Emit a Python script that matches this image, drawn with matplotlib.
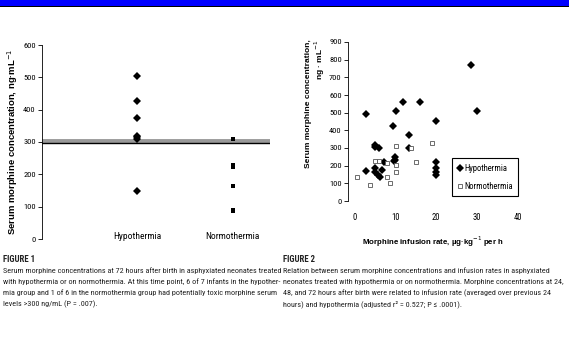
import matplotlib
matplotlib.use("Agg")
import matplotlib.pyplot as plt
from matplotlib import font_manager
from matplotlib.patches import Rectangle

# ── data ────────────────────────────────────────────────────────────
groups = ["Hypothermia", "Normothermia"]
hypo_72h = [505, 428, 373, 320, 315, 310, 148]
normo_72h = [310, 228, 222, 163, 90, 88]
toxic_level = 300

hypo_rate = [2.9, 2.9, 5.0, 5.2, 6.1, 5.0, 5.0, 5.8, 6.25, 6.7, 7.25, 9.4, 10.2, 11.9,
             16.0, 10.0, 10.0, 9.75, 13.5, 13.5, 20.0, 20.0, 20.0, 20.0, 20.0, 28.5, 30.0]
hypo_conc = [492, 170, 317, 308, 298, 185, 166, 147, 138, 175, 222, 425, 509, 560,
             560, 251, 232, 228, 374, 298, 451, 223, 185, 166, 147, 770, 509]
normo_rate = [0.6, 3.9, 5.0, 6.1, 7.9, 7.9, 8.75, 10.2, 10.2, 10.2, 13.9, 15.2, 19.0]
normo_conc = [138, 91, 228, 228, 217, 138, 104, 311, 204, 162, 298, 223, 330]

yticks_1 = [0, 100, 200, 300, 400, 500, 600]
yticks_2 = [0, 100, 200, 300, 400, 500, 600, 700, 800, 900]
xticks_2 = [0, 10, 20, 30, 40]

caption_1 = [
    "Serum morphine concentrations at 72 hours after birth in asphyxiated neonates treated",
    "with hypothermia or on normothermia. At this time point, 6 of 7 infants in the hypother-",
    "mia group and 1 of 6 in the normothermia group had potentially toxic morphine serum",
    "levels >300 ng/mL (P = .007).",
]
caption_2 = [
    "Relation between serum morphine concentrations and infusion rates in asphyxiated",
    "neonates treated with hypothermia or on normothermia. Morphine concentrations at 24,",
    "48, and 72 hours after birth were related to infusion rate (averaged over previous 24",
    "hours) and hypothermia (adjusted r\u00b2 = 0.527; P \u2264 .0001).",
]

# ── fonts ───────────────────────────────────────────────────────────
names = {f.name for f in font_manager.fontManager.ttflist}
NARROW = "DejaVu Sans"
for cand in ["Liberation Sans Narrow", "DejaVu Sans Condensed", "Roboto Condensed",
             "Open Sans Condensed", "Liberation Sans"]:
    if cand in names:
        NARROW = cand
        break
BOLD = "Liberation Sans" if "Liberation Sans" in names else "DejaVu Sans"

W, H = 569, 345
fig = plt.figure(figsize=(W / 100, H / 100), dpi=100)
fig.patch.set_facecolor("white")
renderer = fig.canvas.get_renderer()

# header band
fig.patches.append(Rectangle((0, 1 - 5.7 / H), 1, 5.7 / H, transform=fig.transFigure,
                             fc="#0000FF", ec="none"))
fig.patches.append(Rectangle((0, 1 - 7.2 / H), 1, 1.5 / H, transform=fig.transFigure,
                             fc="black", ec="none"))

def px_axes(x0, y0, x1, y1):
    return fig.add_axes([x0 / W, 1 - y1 / H, (x1 - x0) / W, (y1 - y0) / H])

# ── figure 1 ────────────────────────────────────────────────────────
ax1 = px_axes(42, 45, 270, 239)
ax1.plot([1] * len(hypo_72h), hypo_72h, "D", color="black", ms=3.6, mew=0)
ax1.plot([2] * len(normo_72h), normo_72h, "s", color="black", ms=3.4, mew=0)
ax1.axhline(toxic_level + 2, color="#999999", lw=3.5, zorder=1)
ax1.axhline(toxic_level - 3, color="black", lw=1.0, zorder=2)
ax1.set_xlim(0, 2.39)
ax1.set_ylim(0, 600)
ax1.set_yticks(yticks_1)
ax1.set_xticks([1, 2])
ax1.set_xticklabels(groups, fontfamily=NARROW, fontsize=6.8)
ax1.tick_params(axis="x", length=0, pad=-5)
ax1.tick_params(axis="y", length=3, width=0.6, pad=1.5, labelsize=6)
for t in ax1.get_yticklabels():
    t.set_fontfamily(NARROW)
for s in ["top", "right", "bottom"]:
    ax1.spines[s].set_visible(False)
ax1.spines["left"].set_linewidth(0.6)
ax1.set_facecolor("none")
ax1.set_ylabel("Serum morphine concentration, ng\u00b7mL$^{-1}$", fontsize=6.8,
               fontweight="bold", fontfamily=BOLD, labelpad=2)

# ── figure 2 ────────────────────────────────────────────────────────
ax2 = px_axes(348, 42, 518, 201)
ax2.plot(hypo_rate, hypo_conc, "D", color="black", ms=3.6, mew=0, label="Hypothermia")
ax2.plot(normo_rate, normo_conc, "s", mfc="white", mec="#555555", ms=3.2, mew=0.6,
         label="Normothermia")
ax2.set_xlim(-1.5, 40)
ax2.set_ylim(0, 900)
ax2.set_xticks(xticks_2)
ax2.set_yticks(yticks_2)
ax2.tick_params(axis="x", length=0, pad=9, labelsize=6.2)
ax2.tick_params(axis="y", length=3, width=0.6, pad=1.5, labelsize=6)
for t in ax2.get_xticklabels() + ax2.get_yticklabels():
    t.set_fontfamily(NARROW)
for s in ["top", "right", "bottom"]:
    ax2.spines[s].set_visible(False)
ax2.spines["left"].set_linewidth(0.6)
ax2.set_xlabel("Morphine infusion rate, \u00b5g\u00b7kg$^{-1}$ per h", fontsize=5.7,
               fontweight="bold", fontfamily=BOLD, labelpad=9)
ax2.set_ylabel("Serum morphine concentration,\nng \u00b7 mL$^{-1}$", fontsize=6,
               fontweight="bold", fontfamily=BOLD, linespacing=1.0,
               multialignment="right")
ax2.yaxis.set_label_coords(-0.125, 0.61)
leg = ax2.legend(loc="lower right", bbox_to_anchor=(1.0, 0.03), borderaxespad=0,
                 prop={"family": NARROW, "size": 6.2}, fancybox=False, framealpha=1,
                 handletextpad=0.1, handlelength=0.7, borderpad=0.6, labelspacing=1.1)
leg.get_frame().set_edgecolor("black")
leg.get_frame().set_linewidth(0.8)

# ── captions ────────────────────────────────────────────────────────
def fit_size(text, width_px, base=6.0):
    t = fig.text(0, 0, text, fontsize=base, fontfamily=NARROW)
    w = t.get_window_extent(renderer).width
    t.remove()
    return base * width_px / w

captions = [(3, 283, "FIGURE 1", caption_1), (283, 281, "FIGURE 2", caption_2)]
fs = min(fit_size(line, width) for _, width, _, lines in captions for line in lines)
for x0, width, title, lines in captions:
    fig.text(x0 / W, 1 - 260 / H, title, fontsize=fs + 0.4, fontfamily=NARROW,
             fontweight="bold", color="#222222", va="center")
    for i, line in enumerate(lines):
        fig.text(x0 / W, 1 - (270.5 + i * 11.2) / H, line, fontsize=fs,
                 fontfamily=NARROW, color="#222222", va="center")

fig.savefig("out.png", dpi=100, facecolor="white")
